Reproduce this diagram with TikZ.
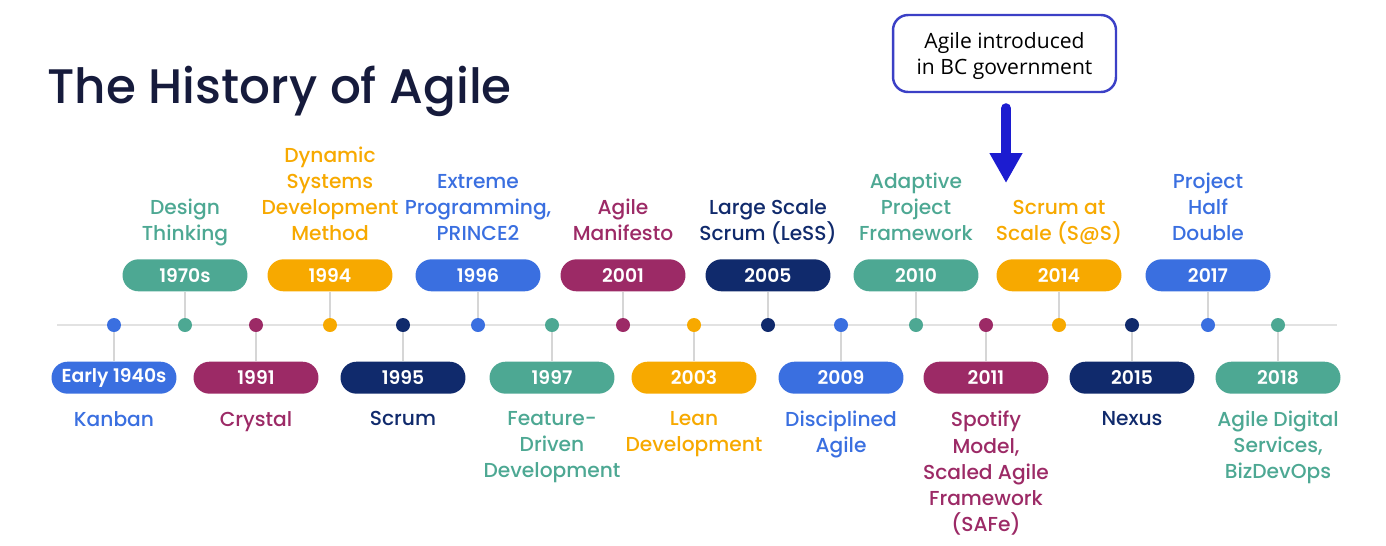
\documentclass[tikz,border=0pt]{standalone}
\usepackage{fontspec}
\IfFontExistsTF{Poppins Medium}
  {\newfontfamily\popfont{Poppins Medium}[BoldFont={Poppins SemiBold}]}
  {\newfontfamily\popfont{Poppins}}
\newfontfamily\calloutfont{Open Sans}
\usepackage{xcolor}
\usepackage{tikz}
\usetikzlibrary{positioning,arrows.meta}

\definecolor{agblue}{HTML}{3A6FE0}
\definecolor{agteal}{HTML}{4DA893}
\definecolor{agplum}{HTML}{9C2A66}
\definecolor{agorange}{HTML}{F7A900}
\definecolor{agnavy}{HTML}{102A6C}
\definecolor{axisgray}{HTML}{E2E2E2}
\definecolor{stemgray}{HTML}{D6D6D6}
\definecolor{titlenavy}{HTML}{161B3C}
\definecolor{calloutblue}{HTML}{3B40C6}
\definecolor{arrowblue}{HTML}{1C1CD0}

\begin{document}
\begin{tikzpicture}[
    x=0.02cm, y=-0.02cm,
    font={\popfont\fontsize{11.5}{14.8}\selectfont},
    dot/.style={
        circle,
        fill=#1,
        inner sep=0pt,
        minimum size=0.28cm
    },
    pill/.style={
        fill=#1,
        text=white,
        rounded corners=0.32cm,
        minimum width=2.5cm,
        minimum height=0.64cm,
        inner sep=0pt,
        font={\popfont\bfseries\fontsize{10.7}{14.8}\selectfont}
    },
    toplbl/.style={
        text=#1,
        align=center,
        inner sep=0pt,
        text depth=0.25em
    },
    botlbl/.style={
        text=#1,
        align=center,
        inner sep=0pt
    },
    axis/.style={draw=axisgray, line width=1.6pt},
    stem/.style={draw=stemgray, line width=1.1pt},
    callout/.style={
        draw=calloutblue,
        line width=1.4pt,
        rounded corners=0.3cm,
        minimum width=4.46cm,
        minimum height=1.54cm,
        align=center,
        text depth=0pt,
        font={\calloutfont\fontsize{12}{14.8}\selectfont}
    },
    bigarrow/.style={
        draw=arrowblue,
        line width=0.2cm,
        line cap=round,
        -{Triangle[width=0.62cm,length=0.6cm]}
    }
]
\useasboundingbox (0,0) rectangle (1386,545);

% title
\node[anchor=base west, inner sep=0pt, text=titlenavy,
      font={\popfont\fontsize{27.6}{34}\selectfont}] (title) at (47,103)
{The History of Agile};

% timeline
\coordinate (tl-start) at (57,325);
\coordinate (tl-end) at (1337,325);
\draw[axis] (tl-start) -- (tl-end);

% Early 1940s
\node[dot=agblue] (d1) at (114,325) {};
\node[pill=agblue, below=0.58cm of d1] (p1) {Early 1940s};
\node[botlbl=agblue, below=0.34cm of p1] (l1) {Kanban};
\draw[stem] (d1) -- (p1);

% 1970s
\node[dot=agteal] (d2) at (185,325) {};
\node[pill=agteal, above=0.52cm of d2] (p2) {1970s};
\node[toplbl=agteal, above=0.28cm of p2] (l2) {Design\\Thinking};
\draw[stem] (d2) -- (p2);

% 1991
\node[dot=agplum] (d3) at (256,325) {};
\node[pill=agplum, below=0.58cm of d3] (p3) {1991};
\node[botlbl=agplum, below=0.34cm of p3] (l3) {Crystal};
\draw[stem] (d3) -- (p3);

% 1994
\node[dot=agorange] (d4) at (330,325) {};
\node[pill=agorange, above=0.52cm of d4] (p4) {1994};
\node[toplbl=agorange, above=0.28cm of p4] (l4) {Dynamic\\Systems\\Development\\Method};
\draw[stem] (d4) -- (p4);

% 1995
\node[dot=agnavy] (d5) at (403,325) {};
\node[pill=agnavy, below=0.58cm of d5] (p5) {1995};
\node[botlbl=agnavy, below=0.34cm of p5] (l5) {Scrum};
\draw[stem] (d5) -- (p5);

% 1996
\node[dot=agblue] (d6) at (478,325) {};
\node[pill=agblue, above=0.52cm of d6] (p6) {1996};
\node[toplbl=agblue, above=0.28cm of p6] (l6) {Extreme\\Programming,\\PRINCE2};
\draw[stem] (d6) -- (p6);

% 1997
\node[dot=agteal] (d7) at (552,325) {};
\node[pill=agteal, below=0.58cm of d7] (p7) {1997};
\node[botlbl=agteal, below=0.34cm of p7] (l7) {Feature-\\Driven\\Development};
\draw[stem] (d7) -- (p7);

% 2001
\node[dot=agplum] (d8) at (623,325) {};
\node[pill=agplum, above=0.52cm of d8] (p8) {2001};
\node[toplbl=agplum, above=0.28cm of p8] (l8) {Agile\\Manifesto};
\draw[stem] (d8) -- (p8);

% 2003
\node[dot=agorange] (d9) at (694,325) {};
\node[pill=agorange, below=0.58cm of d9] (p9) {2003};
\node[botlbl=agorange, below=0.34cm of p9] (l9) {Lean\\Development};
\draw[stem] (d9) -- (p9);

% 2005
\node[dot=agnavy] (d10) at (768,325) {};
\node[pill=agnavy, above=0.52cm of d10] (p10) {2005};
\node[toplbl=agnavy, above=0.28cm of p10] (l10) {Large Scale\\Scrum (LeSS)};
\draw[stem] (d10) -- (p10);

% 2009
\node[dot=agblue] (d11) at (841,325) {};
\node[pill=agblue, below=0.58cm of d11] (p11) {2009};
\node[botlbl=agblue, below=0.34cm of p11] (l11) {Disciplined\\Agile};
\draw[stem] (d11) -- (p11);

% 2010
\node[dot=agteal] (d12) at (916,325) {};
\node[pill=agteal, above=0.52cm of d12] (p12) {2010};
\node[toplbl=agteal, above=0.28cm of p12] (l12) {Adaptive\\Project\\Framework};
\draw[stem] (d12) -- (p12);

% 2011
\node[dot=agplum] (d13) at (986,325) {};
\node[pill=agplum, below=0.58cm of d13] (p13) {2011};
\node[botlbl=agplum, below=0.34cm of p13] (l13) {Spotify\\Model,\\Scaled Agile\\Framework\\(SAFe)};
\draw[stem] (d13) -- (p13);

% 2014
\node[dot=agorange] (d14) at (1059,325) {};
\node[pill=agorange, above=0.52cm of d14] (p14) {2014};
\node[toplbl=agorange, above=0.28cm of p14] (l14) {Scrum at\\Scale (S@S)};
\draw[stem] (d14) -- (p14);

% 2015
\node[dot=agnavy] (d15) at (1132,325) {};
\node[pill=agnavy, below=0.58cm of d15] (p15) {2015};
\node[botlbl=agnavy, below=0.34cm of p15] (l15) {Nexus};
\draw[stem] (d15) -- (p15);

% 2017
\node[dot=agblue] (d16) at (1208,325) {};
\node[pill=agblue, above=0.52cm of d16] (p16) {2017};
\node[toplbl=agblue, above=0.28cm of p16] (l16) {Project\\Half\\Double};
\draw[stem] (d16) -- (p16);

% 2018
\node[dot=agteal] (d17) at (1278,325) {};
\node[pill=agteal, below=0.58cm of d17] (p17) {2018};
\node[botlbl=agteal, below=0.34cm of p17] (l17) {Agile Digital\\Services,\\BizDevOps};
\draw[stem] (d17) -- (p17);

% callout
\node[callout] (bc) at (1004.5,53.5) {Agile introduced\\in BC government};
\coordinate (bc-tip) at (1006,183);
\draw[bigarrow, shorten <=0.3cm] (bc.south -| bc-tip) -- (bc-tip);

\end{tikzpicture}
\end{document}
